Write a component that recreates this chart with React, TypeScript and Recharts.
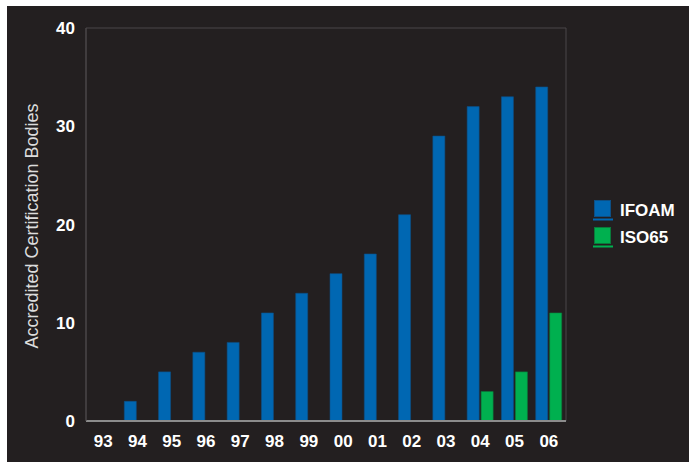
import { BarChart, Bar, XAxis, YAxis, ReferenceArea } from "recharts";

const YEARS = ["93", "94", "95", "96", "97", "98", "99", "00", "01", "02", "03", "04", "05", "06"];
const IFOAM = [0, 2, 5, 7, 8, 11, 13, 15, 17, 21, 29, 32, 33, 34];
const ISO65 = [0, 0, 0, 0, 0, 0, 0, 0, 0, 0, 0, 3, 5, 11];
const Y_TICKS = [0, 10, 20, 30, 40];

const SERIES = [
    { key: "IFOAM", color: "#0067b2", edge: "#0d4f85" },
    { key: "ISO65", color: "#00b04f", edge: "#0a7a3a" },
];

const data = YEARS.map((year, i) => ({ year, IFOAM: IFOAM[i], ISO65: ISO65[i] }));

const FONT = "'Liberation Sans', Arial, sans-serif";

function LegendBox() {
    return (
        <div
            style={{
                position: "absolute",
                left: 585,
                top: 191,
                fontFamily: FONT,
                fontWeight: "bold",
                fontSize: 17,
                color: "#fff",
            }}
        >
            {SERIES.map((s) => (
                <div key={s.key} style={{ display: "flex", alignItems: "center", height: 27 }}>
                    <svg width={22} height={22} style={{ marginRight: 6 }}>
                        <rect x={2.5} y={0.5} width={16} height={16} fill={s.color} stroke={s.edge} />
                        <line x1={1} x2={21} y1={19.5} y2={19.5} stroke={s.color} strokeWidth={2} />
                    </svg>
                    <span>{s.key}</span>
                </div>
            ))}
        </div>
    );
}

export default function App() {
    return (
        <div
            style={{
                position: "absolute",
                left: 7,
                top: 6,
                width: 682,
                height: 456,
                background: "#231f20",
            }}
        >
            <BarChart
                width={682}
                height={456}
                data={data}
                margin={{ top: 22, right: 123, bottom: 11, left: 39 }}
                barSize={12}
                barGap={2}
            >
                <ReferenceArea y1={0} y2={40} fill="none" stroke="#4a4748" strokeWidth={1} />
                <XAxis
                    dataKey="year"
                    height={30}
                    tickSize={0}
                    tickMargin={14}
                    axisLine={{ stroke: "#8c8c8c", strokeWidth: 2 }}
                    tick={{ fill: "#ffffff", fontSize: 17, fontWeight: "bold", fontFamily: FONT }}
                    interval={0}
                />
                <YAxis
                    width={40}
                    domain={[0, 40]}
                    ticks={Y_TICKS}
                    tickSize={0}
                    tickMargin={11}
                    axisLine={{ stroke: "#4a4748" }}
                    tick={{ fill: "#ffffff", fontSize: 17, fontWeight: "bold", fontFamily: FONT }}
                    label={{
                        value: "Accredited Certification Bodies",
                        angle: -90,
                        position: "insideLeft",
                        dx: -19,
                        dy: 124,
                        fill: "#dcdcdc",
                        fontSize: 18,
                        fontFamily: FONT,
                    }}
                />
                {SERIES.map((s) => (
                    <Bar
                        key={s.key}
                        dataKey={s.key}
                        fill={s.color}
                        stroke={s.edge}
                        strokeWidth={0.6}
                        isAnimationActive={false}
                    />
                ))}
            </BarChart>
            <LegendBox />
        </div>
    );
}
